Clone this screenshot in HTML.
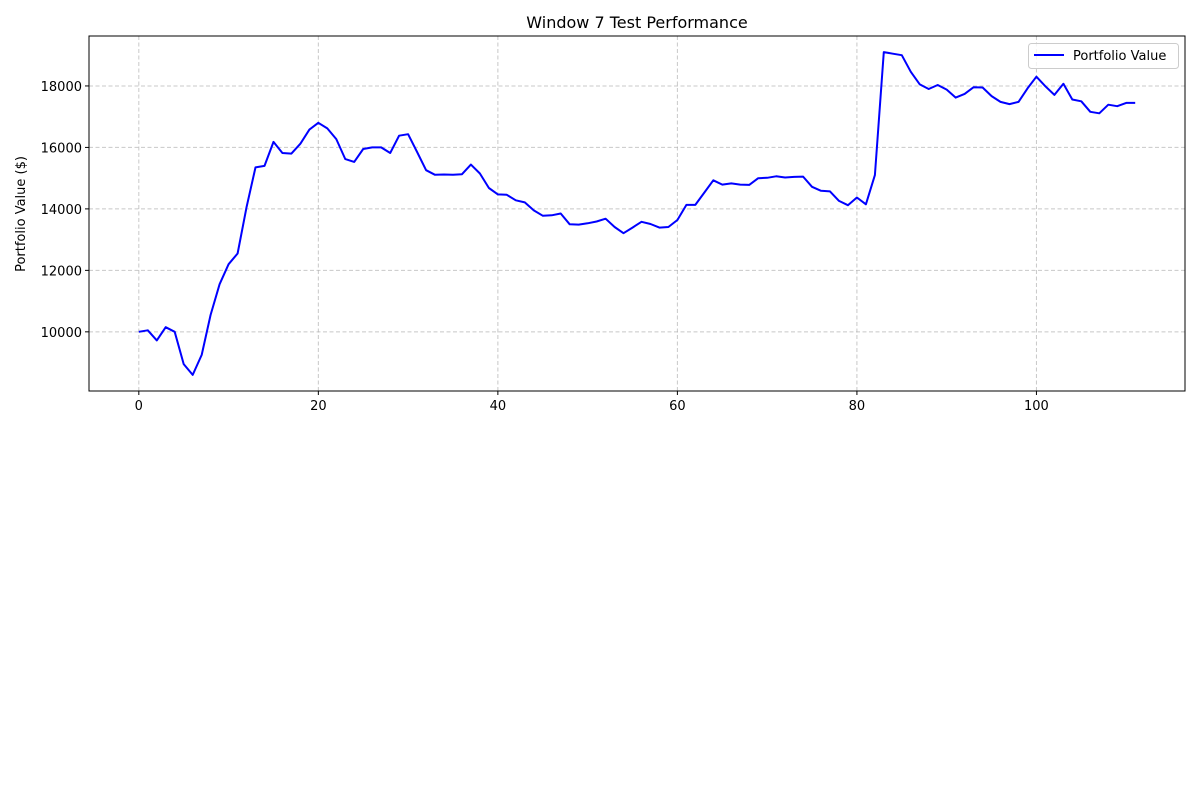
<!DOCTYPE html>
<html><head><meta charset="utf-8"><style>
body{margin:0;background:#fff;}
svg{display:block;font-family:"DejaVu Sans","Liberation Sans",sans-serif;}
</style></head><body>
<svg id="chart" width="1200" height="800">
<rect width="1200" height="800" fill="#fff"/>
<text x="637" y="28" font-size="16" text-anchor="middle">Window 7 Test Performance</text>
<g id="grid"></g><g id="xt"></g><g id="yt"></g>
<path id="line" fill="none" stroke="#0000ff" stroke-width="2" stroke-linejoin="round"/>
<rect x="89" y="36" width="1096" height="355" fill="none" stroke="#000" stroke-width="1"/>
<text transform="translate(25,214) rotate(-90)" font-size="13" text-anchor="middle">Portfolio Value ($)</text>
<g>
<rect x="1028.5" y="43.5" width="150" height="25" rx="3" fill="#fff" fill-opacity="0.8" stroke="#ccc"/>
<line x1="1034" y1="55" x2="1064" y2="55" stroke="#0000ff" stroke-width="2"/>
<text x="1073" y="60" font-size="13">Portfolio Value</text>
</g>
</svg>
<script>
const values=[10000,10050,9720,10150,10000,8950,8600,9250,10550,11550,12200,12550,14050,15350,15400,16180,15820,15800,16120,16580,16800,16620,16270,15620,15530,15950,16000,16000,15820,16380,16430,15850,15260,15110,15120,15110,15130,15440,15150,14680,14470,14460,14280,14210,13950,13780,13790,13850,13500,13490,13530,13590,13680,13410,13210,13390,13580,13510,13390,13410,13640,14130,14130,14530,14930,14790,14830,14790,14780,15000,15010,15060,15020,15040,15050,14720,14590,14570,14260,14120,14370,14150,15100,19100,19050,19000,18460,18050,17900,18030,17880,17620,17740,17960,17950,17670,17480,17410,17480,17920,18300,17990,17710,18070,17560,17500,17160,17110,17390,17340,17450,17450];
const xTicks=[0,20,40,60,80,100];
const yTicks=[10000,12000,14000,16000,18000];
const L=89,R=1185,T=36,B=391;
const n=values.length;
const xmin=-0.05*(n-1),xmax=(n-1)*1.05;
const vmin=Math.min(...values),vmax=Math.max(...values),pad=(vmax-vmin)*0.05;
const ymin=vmin-pad,ymax=vmax+pad;
const X=i=>L+(i-xmin)/(xmax-xmin)*(R-L);
const Y=v=>B-(v-ymin)/(ymax-ymin)*(B-T);
const NS="http://www.w3.org/2000/svg";
const grid=document.getElementById('grid'),xt=document.getElementById('xt'),yt=document.getElementById('yt');
function mk(tag,attrs,parent){const e=document.createElementNS(NS,tag);for(const k in attrs)e.setAttribute(k,attrs[k]);parent.appendChild(e);return e;}
xTicks.forEach(t=>{const x=X(t);
const g=mk('line',{x1:x,x2:x,y1:T,y2:B,stroke:'#b0b0b0','stroke-width':1,'stroke-dasharray':'4,2.5','stroke-opacity':0.7},grid);


mk('line',{x1:x,x2:x,y1:B,y2:B+4,stroke:'#000'},xt);
const tx=mk('text',{x:x,y:B+19,'font-size':13,'text-anchor':'middle'},xt);tx.textContent=t;


});
yTicks.forEach(t=>{const y=Y(t);
const g=mk('line',{x1:L,x2:R,y1:y,y2:y,stroke:'#b0b0b0','stroke-width':1,'stroke-dasharray':'4,2.5','stroke-opacity':0.7},grid);


mk('line',{x1:L-4,x2:L,y1:y,y2:y,stroke:'#000'},yt);
const tx=mk('text',{x:L-7,y:y+5,'font-size':13,'text-anchor':'end'},yt);tx.textContent=t;


});
document.getElementById('line').setAttribute('d',values.map((v,i)=>(i?'L':'M')+X(i).toFixed(1)+','+Y(v).toFixed(1)).join(''));
</script>
</body></html>
